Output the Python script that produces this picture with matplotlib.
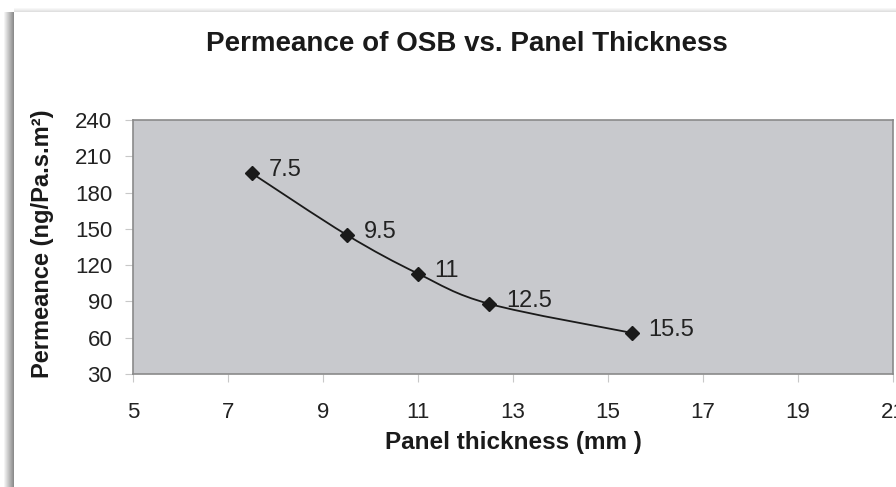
import matplotlib.pyplot as plt
import numpy as np
from matplotlib.path import Path
from matplotlib.patches import PathPatch, Rectangle

# data
thickness = [7.5, 9.5, 11, 12.5, 15.5]
permeance = [196, 145, 113, 88, 64]
point_labels = ['7.5', '9.5', '11', '12.5', '15.5']
xticks = [5, 7, 9, 11, 13, 15, 17, 19, 21]
yticks = [30, 60, 90, 120, 150, 180, 210, 240]

plt.rcParams['font.family'] = ['Liberation Sans', 'DejaVu Sans']

W, H = 896, 487
fig = plt.figure(figsize=(W / 100, H / 100), dpi=100)
fig.patch.set_facecolor('white')

# shadow of the chart frame (left and top edges)
bg = fig.add_axes([0, 0, 1, 1], zorder=-5)
bg.set_xlim(0, W)
bg.set_ylim(H, 0)
bg.axis('off')
for i in range(11):
    g = 1 - 0.045 * i
    bg.add_patch(Rectangle((3 + i, 12), 1, H, color=(g, g, g), lw=0))
for i in range(5):
    g = 1 - 0.03 * i
    bg.add_patch(Rectangle((14, 7 + i), W, 1, color=(g, g, g), lw=0))

ax = fig.add_axes([133 / W, 1 - 374 / H, (893 - 133) / W, (374 - 120) / H])
ax.set_facecolor('#c8c9cd')
ax.set_xlim(5, 21)
ax.set_ylim(30, 240)
ax.set_xticks(xticks)
ax.set_yticks(yticks)
for s in ax.spines.values():
    s.set_color('#8a8a8a')
    s.set_linewidth(1.2)
ax.tick_params(direction='out', length=6, color='#c8c8c8', labelsize=16,
               labelcolor='#222222')
ax.tick_params(axis='x', pad=14)
ax.tick_params(axis='y', pad=9)

# smoothed line (Catmull-Rom style Bezier through the points)
x = np.array(thickness, float)
y = np.array(permeance, float)
verts = [(x[0], y[0])]
codes = [Path.MOVETO]
n = len(x)
for i in range(n - 1):
    p0 = (x[max(i - 1, 0)], y[max(i - 1, 0)])
    p1 = (x[i], y[i])
    p2 = (x[i + 1], y[i + 1])
    p3 = (x[min(i + 2, n - 1)], y[min(i + 2, n - 1)])
    c1 = (p1[0] + (p2[0] - p0[0]) / 6, p1[1] + (p2[1] - p0[1]) / 6)
    c2 = (p2[0] - (p3[0] - p1[0]) / 6, p2[1] - (p3[1] - p1[1]) / 6)
    verts += [c1, c2, p2]
    codes += [Path.CURVE4] * 3
ax.add_patch(PathPatch(Path(verts, codes), fill=False, color='#1a1a1a', lw=1.3))
ax.plot(thickness, permeance, linestyle='none', marker='D', markersize=7,
        color='#1a1a1a')

for xi, yi, lab in zip(thickness, permeance, point_labels):
    ax.annotate(lab, (xi, yi), xytext=(12, 2), textcoords='offset points',
                fontsize=17, color='#222222', va='center', ha='left')

fig.text(467 / W, 1 - 44 / H, 'Permeance of OSB vs. Panel Thickness',
         ha='center', va='center', fontsize=20, fontweight='bold',
         color='#1a1a1a')
fig.text(513 / W, 1 - 442 / H, 'Panel thickness (mm )', ha='center',
         va='center', fontsize=17.5, fontweight='bold', color='#1a1a1a')
fig.text(42 / W, 1 - 244 / H, 'Permeance (ng/Pa.s.m\u00b2)', ha='center',
         va='center', rotation=90, fontsize=17, fontweight='bold',
         color='#1a1a1a')

fig.savefig('out.png', dpi=100)
